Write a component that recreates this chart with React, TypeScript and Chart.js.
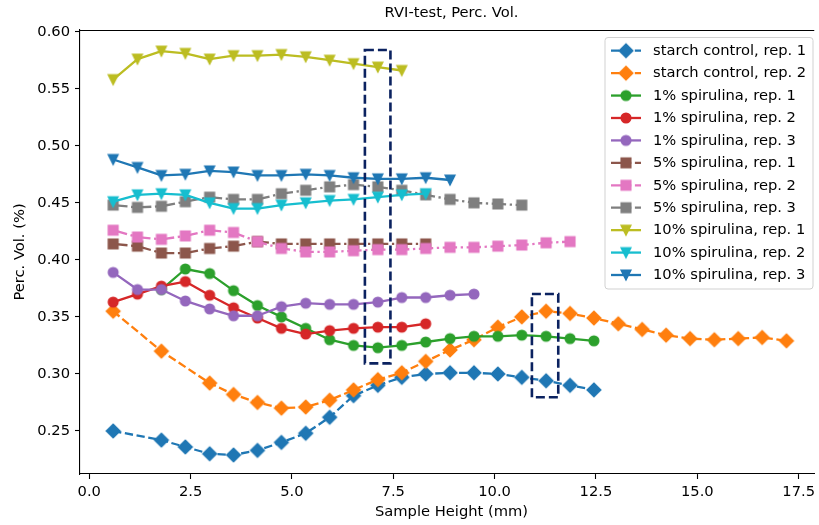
import React, { useEffect, useRef } from "react";
import { Chart, registerables } from "chart.js";

Chart.register(...registerables);

// ---------- data ----------
const HEIGHT_MM = [0.59, 1.19, 1.78, 2.37, 2.97, 3.56, 4.15, 4.74, 5.34, 5.93, 6.52, 7.12, 7.71, 8.30, 8.90, 9.49, 10.08, 10.67, 11.27, 11.86, 12.45, 13.05, 13.64, 14.23, 14.82, 15.42, 16.01, 16.60, 17.20];

const STARCH_REP1 = [0.250, null, 0.242, 0.236, 0.230, 0.229, 0.233, 0.240, 0.248, 0.262, 0.281, 0.290, 0.297, 0.300, 0.301, 0.301, 0.300, 0.297, 0.294, 0.290, 0.286];
const STARCH_REP2 = [0.355, null, 0.320, null, 0.292, 0.282, 0.275, 0.270, 0.271, 0.277, 0.286, 0.295, 0.301, 0.311, 0.321, 0.330, 0.341, 0.350, 0.355, 0.353, 0.349, 0.344, 0.339, 0.334, 0.331, 0.330, 0.331, 0.332, 0.329];
const SPIR1_REP1 = [null, null, 0.374, 0.392, 0.388, 0.373, 0.360, 0.350, 0.340, 0.330, 0.325, 0.323, 0.325, 0.328, 0.331, 0.333, 0.333, 0.334, 0.333, 0.331, 0.329];
const SPIR1_REP2 = [0.363, 0.370, 0.377, 0.381, 0.369, 0.358, 0.349, 0.340, 0.335, 0.338, 0.340, 0.341, 0.341, 0.344];
const SPIR1_REP3 = [0.389, 0.374, 0.374, 0.364, 0.357, 0.351, 0.351, 0.359, 0.362, 0.361, 0.361, 0.363, 0.367, 0.367, 0.369, 0.370];
const SPIR5_REP1 = [0.414, 0.412, 0.406, 0.406, 0.410, 0.412, 0.416, 0.414, 0.414, 0.414, 0.414, 0.414, 0.414, 0.414];
const SPIR5_REP2 = [0.426, 0.420, 0.418, 0.421, 0.426, 0.424, 0.416, 0.410, 0.407, 0.407, 0.408, 0.409, 0.409, 0.410, 0.411, 0.411, 0.412, 0.413, 0.415, 0.416];
const SPIR5_REP3 = [0.448, 0.446, 0.447, 0.451, 0.455, 0.453, 0.453, 0.458, 0.461, 0.464, 0.466, 0.464, 0.461, 0.457, 0.453, 0.450, 0.449, 0.448];
const SPIR10_REP1 = [0.558, 0.576, 0.583, 0.581, 0.576, 0.579, 0.579, 0.580, 0.578, 0.575, 0.572, 0.569, 0.566];
const SPIR10_REP2 = [0.451, 0.457, 0.458, 0.457, 0.450, 0.445, 0.445, 0.448, 0.450, 0.452, 0.453, 0.455, 0.457, 0.458];
const SPIR10_REP3 = [0.488, 0.481, 0.474, 0.475, 0.478, 0.477, 0.474, 0.474, 0.475, 0.474, 0.472, 0.471, 0.471, 0.472, 0.470];

const SERIES_LABELS = [
  "starch control, rep. 1",
  "starch control, rep. 2",
  "1% spirulina, rep. 1",
  "1% spirulina, rep. 2",
  "1% spirulina, rep. 3",
  "5% spirulina, rep. 1",
  "5% spirulina, rep. 2",
  "5% spirulina, rep. 3",
  "10% spirulina, rep. 1",
  "10% spirulina, rep. 2",
  "10% spirulina, rep. 3",
];
const SERIES_VALUES = [
  STARCH_REP1, STARCH_REP2, SPIR1_REP1, SPIR1_REP2, SPIR1_REP3,
  SPIR5_REP1, SPIR5_REP2, SPIR5_REP3, SPIR10_REP1, SPIR10_REP2, SPIR10_REP3,
];

const X_TICKS = [0, 2.5, 5, 7.5, 10, 12.5, 15, 17.5];
const Y_TICKS = [0.25, 0.3, 0.35, 0.4, 0.45, 0.5, 0.55, 0.6];

// highlighted regions (data coordinates)
const BOX_X = [[6.8, 7.43], [10.92, 11.57]];
const BOX_Y = [[0.3093, 0.584], [0.2796, 0.3701]];

const TITLE = "RVI-test, Perc. Vol.";
const X_TITLE = "Sample Height (mm)";
const Y_TITLE = "Perc. Vol. (%)";

// ---------- styles ----------
const COLORS = ["#1f77b4", "#ff7f0e", "#2ca02c", "#d62728", "#9467bd", "#8c564b", "#e377c2", "#7f7f7f", "#bcbd22", "#17becf", "#1f77b4"];
const SHAPES = ["diamond", "diamond", "circle", "circle", "circle", "square", "square", "square", "tridown", "tridown", "tridown"];
const LW = 2.3;
const DASHED = [8.3, 3.6];
const DASHDOT = [14.4, 3.6, 2.3, 3.6];
const DASHES = [DASHED, DASHED, [], [], [], DASHDOT, DASHDOT, DASHDOT, [], [], []];
const FONT = "'DejaVu Sans', sans-serif";
const FS = 14.7;

function makeMarker(shape: string, color: string): HTMLCanvasElement {
  const size = 24;
  const c = document.createElement("canvas");
  c.width = size;
  c.height = size;
  const ctx = c.getContext("2d")!;
  const cx = size / 2, cy = size / 2;
  const ms = 9.6;
  ctx.beginPath();
  if (shape === "circle") {
    ctx.arc(cx, cy, ms / 2, 0, Math.PI * 2);
  } else if (shape === "diamond") {
    const h = ms * 0.7071;
    ctx.moveTo(cx, cy - h);
    ctx.lineTo(cx + h, cy);
    ctx.lineTo(cx, cy + h);
    ctx.lineTo(cx - h, cy);
    ctx.closePath();
  } else if (shape === "square") {
    ctx.rect(cx - ms / 2, cy - ms / 2, ms, ms);
  } else {
    const h = ms / 2;
    ctx.moveTo(cx, cy + h);
    ctx.lineTo(cx - h, cy - h);
    ctx.lineTo(cx + h, cy - h);
    ctx.closePath();
  }
  ctx.fillStyle = color;
  ctx.fill();
  ctx.lineWidth = 1.5;
  ctx.lineJoin = "miter";
  ctx.strokeStyle = color;
  ctx.stroke();
  return c;
}

export default function App() {
  const ref = useRef<HTMLCanvasElement | null>(null);

  useEffect(() => {
    const canvas = ref.current;
    if (!canvas) return;
    const markers = SHAPES.map((s, i) => makeMarker(s, COLORS[i]));

    const datasets = SERIES_VALUES.map((vals, i) => ({
      label: SERIES_LABELS[i],
      data: vals.map((v, k) => ({ x: HEIGHT_MM[k], y: v })).filter((p) => p.y !== null),
      borderColor: COLORS[i],
      backgroundColor: COLORS[i],
      borderWidth: LW,
      borderDash: DASHES[i],
      borderCapStyle: "butt" as const,
      borderJoinStyle: "round" as const,
      pointStyle: markers[i],
      pointRadius: 5,
      pointHoverRadius: 5,
      tension: 0,
      fill: false,
      order: SERIES_VALUES.length - i,
    }));

    const overlay = {
      id: "overlay",
      afterDatasetsDraw(chart: any) {
        const ctx = chart.ctx;
        const xs = chart.scales.x, ys = chart.scales.y;
        ctx.save();
        ctx.strokeStyle = "#0b2260";
        ctx.lineWidth = 2.6;
        ctx.setLineDash([9, 4]);
        BOX_X.forEach((bx, i) => {
          const x0 = xs.getPixelForValue(bx[0]);
          const x1 = xs.getPixelForValue(bx[1]);
          const y0 = ys.getPixelForValue(BOX_Y[i][1]);
          const y1 = ys.getPixelForValue(BOX_Y[i][0]);
          ctx.strokeRect(x0, y0, x1 - x0, y1 - y0);
        });
        ctx.restore();
      },
      afterDraw(chart: any) {
        const ctx = chart.ctx;
        const a = chart.chartArea;
        ctx.save();
        // top spine
        ctx.strokeStyle = "#000";
        ctx.lineWidth = 1.1;
        ctx.beginPath();
        ctx.moveTo(a.left, a.top + 0.5);
        ctx.lineTo(a.right, a.top + 0.5);
        ctx.stroke();

        // titles
        const axisCenter = a.left + (823 - a.left) / 2;
        ctx.fillStyle = "#000";
        ctx.textAlign = "center";
        ctx.textBaseline = "middle";
        ctx.font = `${FS}px ${FONT}`;
        ctx.fillText(TITLE, axisCenter, 13);
        ctx.fillText(X_TITLE, axisCenter, 512);
        ctx.save();
        ctx.translate(20, (a.top + a.bottom) / 2);
        ctx.rotate(-Math.PI / 2);
        ctx.fillText(Y_TITLE, 0, 0);
        ctx.restore();

        // legend
        const lx0 = 605, ly0 = 37.5, lx1 = 813, ly1 = 289;
        ctx.fillStyle = "rgba(255,255,255,0.8)";
        ctx.strokeStyle = "rgba(204,204,204,0.9)";
        ctx.lineWidth = 1;
        ctx.beginPath();
        const r = 3;
        ctx.moveTo(lx0 + r, ly0);
        ctx.lineTo(lx1 - r, ly0);
        ctx.quadraticCurveTo(lx1, ly0, lx1, ly0 + r);
        ctx.lineTo(lx1, ly1 - r);
        ctx.quadraticCurveTo(lx1, ly1, lx1 - r, ly1);
        ctx.lineTo(lx0 + r, ly1);
        ctx.quadraticCurveTo(lx0, ly1, lx0, ly1 - r);
        ctx.lineTo(lx0, ly0 + r);
        ctx.quadraticCurveTo(lx0, ly0, lx0 + r, ly0);
        ctx.closePath();
        ctx.fill();
        ctx.stroke();

        ctx.textAlign = "left";
        ctx.textBaseline = "middle";
        SERIES_LABELS.forEach((lab, i) => {
          const y = 50.7 + 22.43 * i;
          ctx.save();
          ctx.strokeStyle = COLORS[i];
          ctx.lineWidth = LW;
          ctx.lineCap = "butt";
          ctx.setLineDash(DASHES[i]);
          ctx.beginPath();
          ctx.moveTo(611, y);
          ctx.lineTo(641, y);
          ctx.stroke();
          ctx.restore();
          const m = markers[i];
          ctx.drawImage(m, 626 - m.width / 2, y - m.height / 2);
          ctx.fillStyle = "#000";
          ctx.font = `${FS}px ${FONT}`;
          ctx.fillText(lab, 653, y + 0.5);
        });
        ctx.restore();
      },
    };

    const chart = new Chart(canvas, {
      type: "line",
      data: { datasets },
      options: {
        responsive: false,
        animation: false,
        devicePixelRatio: 1,
        spanGaps: true,
        layout: { padding: { top: 30, left: 0, right: 0, bottom: 0 }, autoPadding: false },
        plugins: {
          legend: { display: false },
          title: { display: false },
          tooltip: { enabled: false },
        },
        events: [],
        scales: {
          x: {
            type: "linear",
            min: -0.228,
            max: 17.885,
            afterBuildTicks: (s: any) => {
              s.ticks = X_TICKS.map((v) => ({ value: v }));
            },
            afterFit: (s: any) => {
              s.height = 51;
            },
            ticks: {
              callback: (v: any) => Number(v).toFixed(1),
              font: { family: FONT, size: FS },
              color: "#000",
              padding: 4,
              maxRotation: 0,
              autoSkip: false,
            },
            grid: { drawOnChartArea: false, drawTicks: true, tickLength: 5, tickColor: "#000", tickWidth: 1.1 },
            border: { color: "#000", width: 1.1 },
          },
          y: {
            type: "linear",
            min: 0.2123,
            max: 0.6015,
            afterBuildTicks: (s: any) => {
              s.ticks = Y_TICKS.map((v) => ({ value: v }));
            },
            afterFit: (s: any) => {
              s.width = 80;
            },
            ticks: {
              callback: (v: any) => Number(v).toFixed(2),
              font: { family: FONT, size: FS },
              color: "#000",
              padding: 5,
              autoSkip: false,
            },
            grid: { drawOnChartArea: false, drawTicks: true, tickLength: 5, tickColor: "#000", tickWidth: 1.1 },
            border: { color: "#000", width: 1.1 },
          },
        },
      },
      plugins: [overlay],
    } as any);

    return () => chart.destroy();
  }, []);

  return (
    <div style={{ position: "absolute", left: 0, top: 0, width: 819, height: 525, background: "#fff", overflow: "hidden" }}>
      <canvas ref={ref} width={819} height={525} style={{ width: 819, height: 525, display: "block" }} />
    </div>
  );
}
